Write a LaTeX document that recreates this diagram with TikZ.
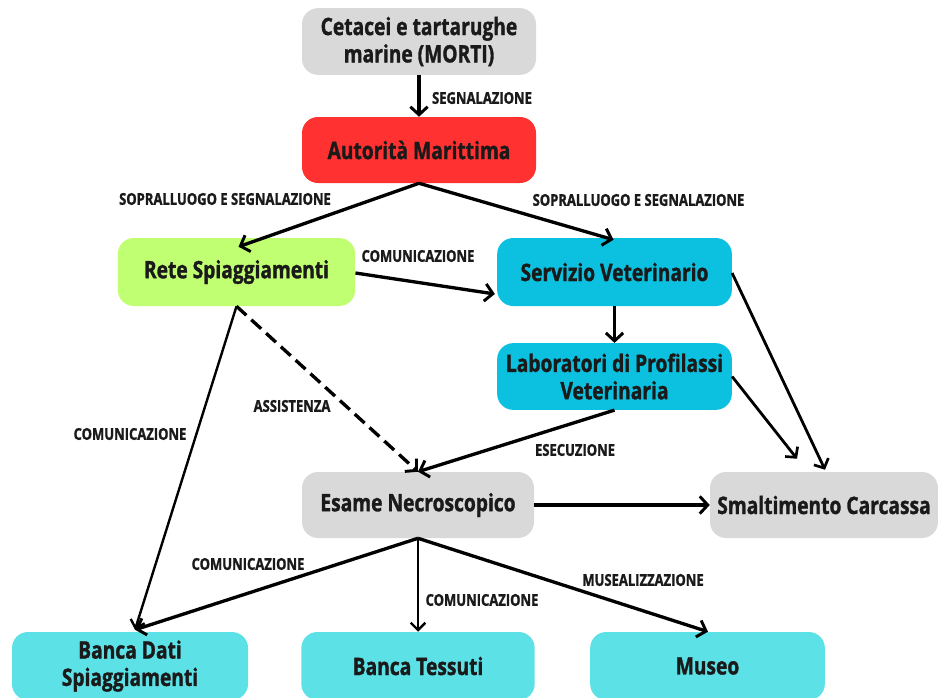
\documentclass[tikz,border=0pt]{standalone}
\usepackage{fontspec}
\setmainfont[FakeStretch=0.8,BoldFeatures={FakeBold=1.3}]{Open Sans}
\usetikzlibrary{arrows.meta,calc}
\definecolor{cgray}{HTML}{D9D9D9}
\definecolor{cred}{HTML}{FF3131}
\definecolor{cgreen}{HTML}{C1FF72}
\definecolor{cblue}{HTML}{0CC0DF}
\definecolor{ccyan}{HTML}{5CE1E6}
\definecolor{ctext}{HTML}{1A1A1A}
\begin{document}
\begin{tikzpicture}[x=0.75pt,y=-0.75pt,
  box/.style={rounded corners=12pt,inner sep=0pt,align=center,
    font=\bfseries\fontsize{18}{20.5}\selectfont,text=ctext},
  lbl/.style={font=\bfseries\fontsize{12.2}{13}\selectfont,text=ctext,inner sep=0pt},
  conn/.style={line width=2.5pt,-{Straight Barb[length=6pt,width=13pt,line width=2.2pt]}},
  mid/.style={line width=2.1pt,-{Straight Barb[length=5.5pt,width=12pt,line width=2pt]}},
  thin/.style={line width=1.8pt,-{Straight Barb[length=5.5pt,width=11pt,line width=1.8pt]}}]
\useasboundingbox (0,0) rectangle (938,697);
\begin{scope}
\clip (0,0) rectangle (938,697);
\node[box,fill=cgray,minimum width=175.5pt,minimum height=50pt] (cet) at (419,41.5) {Cetacei e tartarughe\\marine (MORTI)};
\node[box,fill=cred,minimum width=175.5pt,minimum height=49.5pt] (aut) at (419,150) {Autorità Marittima};
\node[box,fill=cgreen,minimum width=178pt,minimum height=51pt] (rete) at (236.5,272) {Rete Spiaggiamenti};
\node[box,fill=cblue,minimum width=176pt,minimum height=51pt] (serv) at (614.5,272) {Servizio Veterinario};
\node[box,fill=cblue,minimum width=176pt,minimum height=50pt] (lab) at (614.5,376.5) {Laboratori di Profilassi\\Veterinaria};
\node[box,fill=cgray,minimum width=174pt,minimum height=49.5pt] (esame) at (418,505) {Esame Necroscopico};
\node[box,fill=cgray,minimum width=171pt,minimum height=49.5pt] (smalt) at (824,505) {Smaltimento Carcassa};
\node[box,fill=ccyan,minimum width=177pt,minimum height=51pt] (bdati) at (130,666) {Banca Dati\\Spiaggiamenti};
\node[box,fill=ccyan,minimum width=175pt,minimum height=51pt] (btess) at (418,666) {Banca Tessuti};
\node[box,fill=ccyan,minimum width=176pt,minimum height=51pt] (museo) at (707.5,666) {Museo};
\end{scope}
\draw[conn] (cet.south) -- (aut.north);
\draw[conn] (aut.south) -- ($(rete.north)+(2,9)$);
\draw[conn] (aut.south) -- ($(serv.north)+(-1,2)$);
\draw[conn] ($(rete.east)+(0,1)$) -- ($(serv.west)+(-2,22)$);
\draw[conn] (serv.south) -- (lab.north);
\draw[mid] ($(serv.east)+(0,1)$) -- ($(smalt.north)+(1,-2)$);
\draw[mid] (lab.east) -- ($(smalt.north)+(-27,-13)$);
\draw[conn] (lab.south) -- (esame.north);
\draw[conn,dashed,dash pattern=on 10pt off 5pt] (rete.south) -- (esame.north);
\draw[thin] (rete.south) -- ($(bdati.north)+(5,-2)$);
\draw[conn] (esame.east) -- (smalt.west);
\draw[conn] (esame.south) -- ($(bdati.north)+(5,-2)$);
\draw[thin] (esame.south) -- (btess.north);
\draw[conn] (esame.south) -- ($(museo.north)+(0.5,0)$);
\node[lbl] (l1) at (482,98) {SEGNALAZIONE};
\node[lbl] (l2) at (225,199) {SOPRALLUOGO E SEGNALAZIONE};
\node[lbl] (l3) at (638.5,200) {SOPRALLUOGO E SEGNALAZIONE};
\node[lbl] (l4) at (418,256) {COMUNICAZIONE};
\node[lbl] (l5) at (292,406) {ASSISTENZA};
\node[lbl] (l6) at (130,434) {COMUNICAZIONE};
\node[lbl] (l7) at (575,450) {ESECUZIONE};
\node[lbl] (l8) at (248,564) {COMUNICAZIONE};
\node[lbl] (l9) at (482,600) {COMUNICAZIONE};
\node[lbl] (l10) at (643,580) {MUSEALIZZAZIONE};
\end{tikzpicture}
\end{document}
